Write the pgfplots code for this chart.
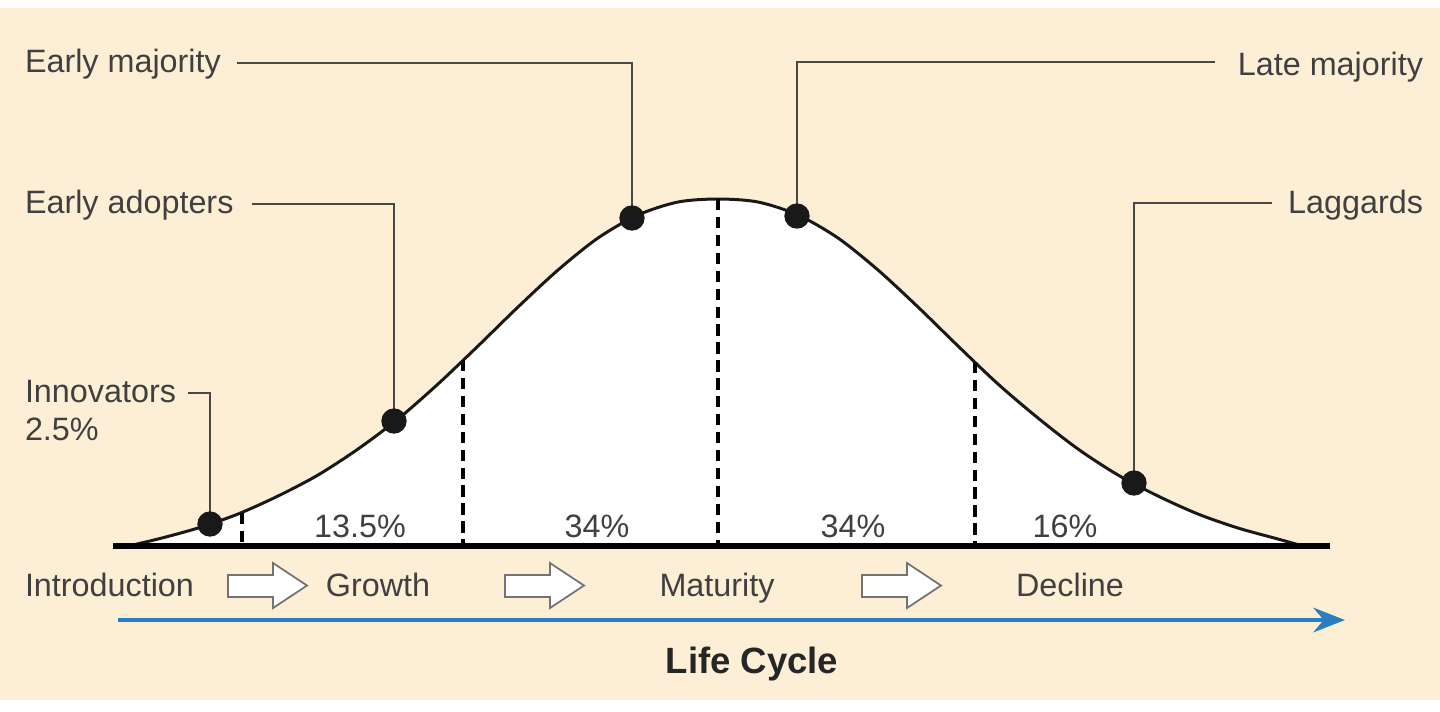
\documentclass[border=0pt]{standalone}
\usepackage{pgfplots}
\pgfplotsset{compat=1.18}
\usepackage{fontspec}
\setmainfont{Liberation Sans}
\usetikzlibrary{arrows.meta}
\definecolor{peach}{HTML}{FDEFD5}
\definecolor{txt}{HTML}{404040}
\definecolor{lead}{HTML}{484848}
\definecolor{lcblue}{HTML}{2A7DC0}
\tikzset{lbl/.style={font=\fontsize{9.2}{11}\selectfont, text=txt, inner sep=0pt, outer sep=0pt}}
\begin{document}
\begin{tikzpicture}
\begin{axis}[
  width=14.4cm, height=7.11cm, scale only axis,
  xmin=0, xmax=1440, ymin=0, ymax=711, y dir=reverse,
  hide axis, clip=false,
]
% background
\fill[white] (axis cs:0,0) rectangle (axis cs:1440,711);
\fill[peach] (axis cs:0,8) rectangle (axis cs:1440,700);

% curve (pixel coordinates: x, y from top)
\addplot[draw=black!90, fill=white, line width=0.85pt, smooth] coordinates {
 (128,546) (158,539) (198,528) (238,514) (278,496) (318,475) (358,449)
 (398,419) (438,384) (478,346) (518,307) (558,270) (598,238) (638,215)
 (678,202) (718,199) (758,202) (798,215) (838,238) (878,270) (918,307)
 (958,346) (998,384) (1038,418) (1078,449) (1118,475) (1158,496)
 (1198,514) (1238,528) (1278,539) (1303,546)
};

% dashed separators
\addplot[black, line width=1.1pt, dash pattern=on 3.2pt off 1.9pt] coordinates {(242,513) (242,546)};
\addplot[black, line width=1.1pt, dash pattern=on 3.2pt off 1.9pt] coordinates {(463,360) (463,546)};
\addplot[black, line width=1.1pt, dash pattern=on 3.2pt off 1.9pt] coordinates {(718,199) (718,546)};
\addplot[black, line width=1.1pt, dash pattern=on 3.2pt off 1.9pt] coordinates {(975,362) (975,546)};

% baseline
\addplot[black, line width=1.7pt] coordinates {(113,546) (1330,546)};

% leader lines
\addplot[lead, line width=0.7pt] coordinates {(237,63) (632,63) (632,218)};
\addplot[lead, line width=0.7pt] coordinates {(1215,62) (797,62) (797,216)};
\addplot[lead, line width=0.7pt] coordinates {(252,204) (394,204) (394,421)};
\addplot[lead, line width=0.7pt] coordinates {(1272,203) (1134,203) (1134,483)};
\addplot[lead, line width=0.7pt] coordinates {(188,393) (210,393) (210,524)};

% dots
\addplot[only marks, mark=*, mark size=3.4pt, color=black!90] coordinates {
 (210,524) (394,421) (632,218) (797,216) (1134,483)
};

% labels
\node[lbl, anchor=base west] at (axis cs:25,72) {Early majority};
\node[lbl, anchor=base west] at (axis cs:25,213) {Early adopters};
\node[lbl, anchor=base east] at (axis cs:1423,75) {Late majority};
\node[lbl, anchor=base east] at (axis cs:1423,213) {Laggards};
\node[lbl, anchor=base west] at (axis cs:25,402) {Innovators};
\node[lbl, anchor=base west] at (axis cs:25,440) {2.5\%};

\node[lbl, anchor=base] at (axis cs:360,537) {13.5\%};
\node[lbl, anchor=base] at (axis cs:597,537) {34\%};
\node[lbl, anchor=base] at (axis cs:853,537) {34\%};
\node[lbl, anchor=base] at (axis cs:1065,537) {16\%};

\node[lbl, anchor=base west] at (axis cs:25,596) {Introduction};
\node[lbl, anchor=base] at (axis cs:378,596) {Growth};
\node[lbl, anchor=base] at (axis cs:717,596) {Maturity};
\node[lbl, anchor=base] at (axis cs:1070,596) {Decline};

% block arrows
\draw[fill=white, draw=black!55, line width=0.5pt]
 (axis cs:228,575) -- (axis cs:273,575) -- (axis cs:273,563) -- (axis cs:307,585.5)
 -- (axis cs:273,608) -- (axis cs:273,597) -- (axis cs:228,597) -- cycle;
\draw[fill=white, draw=black!55, line width=0.5pt]
 (axis cs:505,575) -- (axis cs:550,575) -- (axis cs:550,563) -- (axis cs:584,585.5)
 -- (axis cs:550,608) -- (axis cs:550,597) -- (axis cs:505,597) -- cycle;
\draw[fill=white, draw=black!55, line width=0.5pt]
 (axis cs:862,575) -- (axis cs:907,575) -- (axis cs:907,563) -- (axis cs:941,585.5)
 -- (axis cs:907,608) -- (axis cs:907,597) -- (axis cs:862,597) -- cycle;

% life cycle arrow
\addplot[lcblue, line width=1.1pt, -{Stealth[length=9pt, width=7pt]}] coordinates {(118,620) (1345,620)};
\node[lbl, anchor=base, font=\fontsize{10.4}{12}\selectfont\bfseries, text=black!85] at (axis cs:752,673) {Life Cycle};
\end{axis}
\end{tikzpicture}
\end{document}
